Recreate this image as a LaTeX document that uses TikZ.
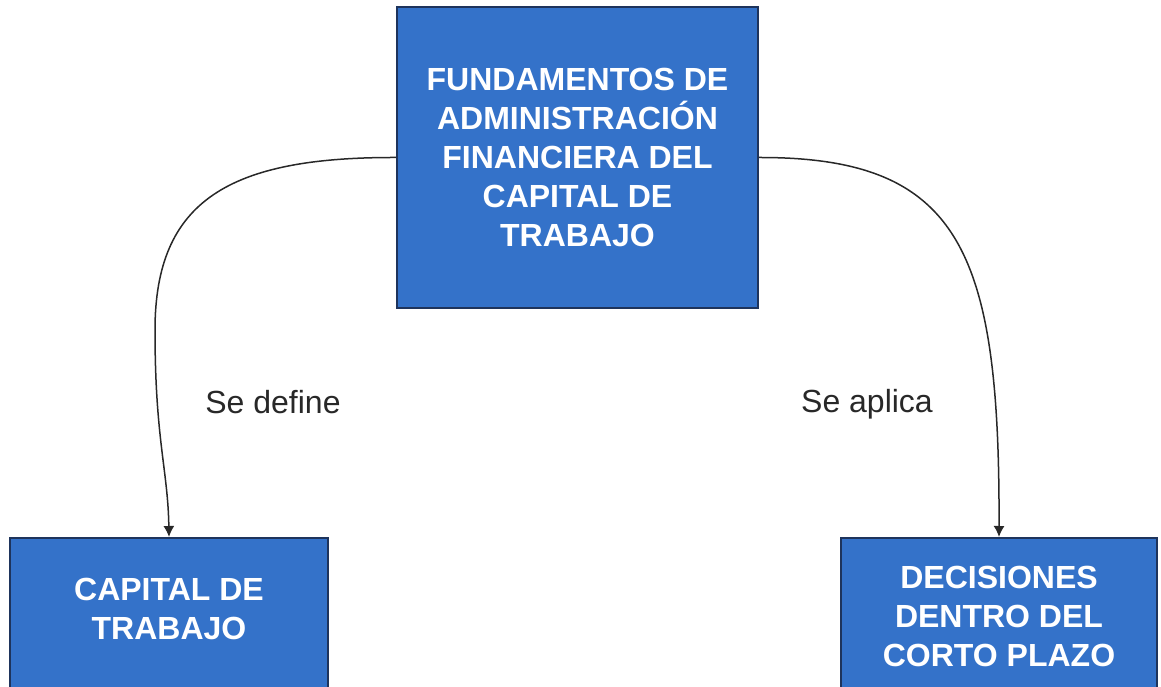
\documentclass[tikz,border=0pt]{standalone}
\usepackage{fontspec}
\setmainfont{Liberation Sans}
\usepackage{xcolor}
\usepackage{tikz}
\usetikzlibrary{arrows.meta, positioning}

\definecolor{boxblue}{RGB}{52,114,201}
\definecolor{boxedge}{RGB}{30,52,92}
\definecolor{inkgray}{RGB}{40,40,40}

\tikzset{
	concept/.style = {draw = boxedge, line width = 1.6pt, fill = boxblue, text = white,
		align = center, font = \bfseries\fontsize{32}{39}\selectfont, inner xsep = 4pt},
	linkword/.style = {text = inkgray, font = \fontsize{32}{39}\selectfont},
	link/.style = {draw = inkgray, line width = 1.5pt, -{Latex[length=11pt, width=11pt]}}
}

\begin{document}
\begin{tikzpicture}[x = 1pt, y = 1pt]
			\useasboundingbox (0,0) rectangle (1161,686);
			\clip (0,0) rectangle (1161,686);
			
			\node [concept, minimum width = 361pt, minimum height = 301pt] (fundamentos) at (577.5,528.5)
				{FUNDAMENTOS DE\\ADMINISTRACIÓN\\FINANCIERA DEL\\CAPITAL DE\\TRABAJO};
			
			\node [concept, anchor = north, minimum width = 318pt, inner ysep = 40pt, text depth = 60pt] (capital) at (169,149)
				{CAPITAL DE\\TRABAJO};
			\node [concept, anchor = north, minimum width = 316pt, inner ysep = 28pt, text depth = 60pt] (decisiones) at (999,149)
				{DECISIONES\\DENTRO DEL\\CORTO PLAZO};
			
			\node [linkword] (define) at (273,284) {Se define};
			\node [linkword] (aplica) at (867,282) {Se aplica};
			
			\coordinate (bend) at (155,356);
			
			\begin{scope}[link]
				\draw (fundamentos.west) .. controls (230,529) and (155,486) .. (bend)
					.. controls (155,246) and (168,216) .. (capital.north);
				\draw (fundamentos.east) .. controls (960,529) and (1000,436) .. (decisiones.north);
			\end{scope}
		\end{tikzpicture}
\end{document}
